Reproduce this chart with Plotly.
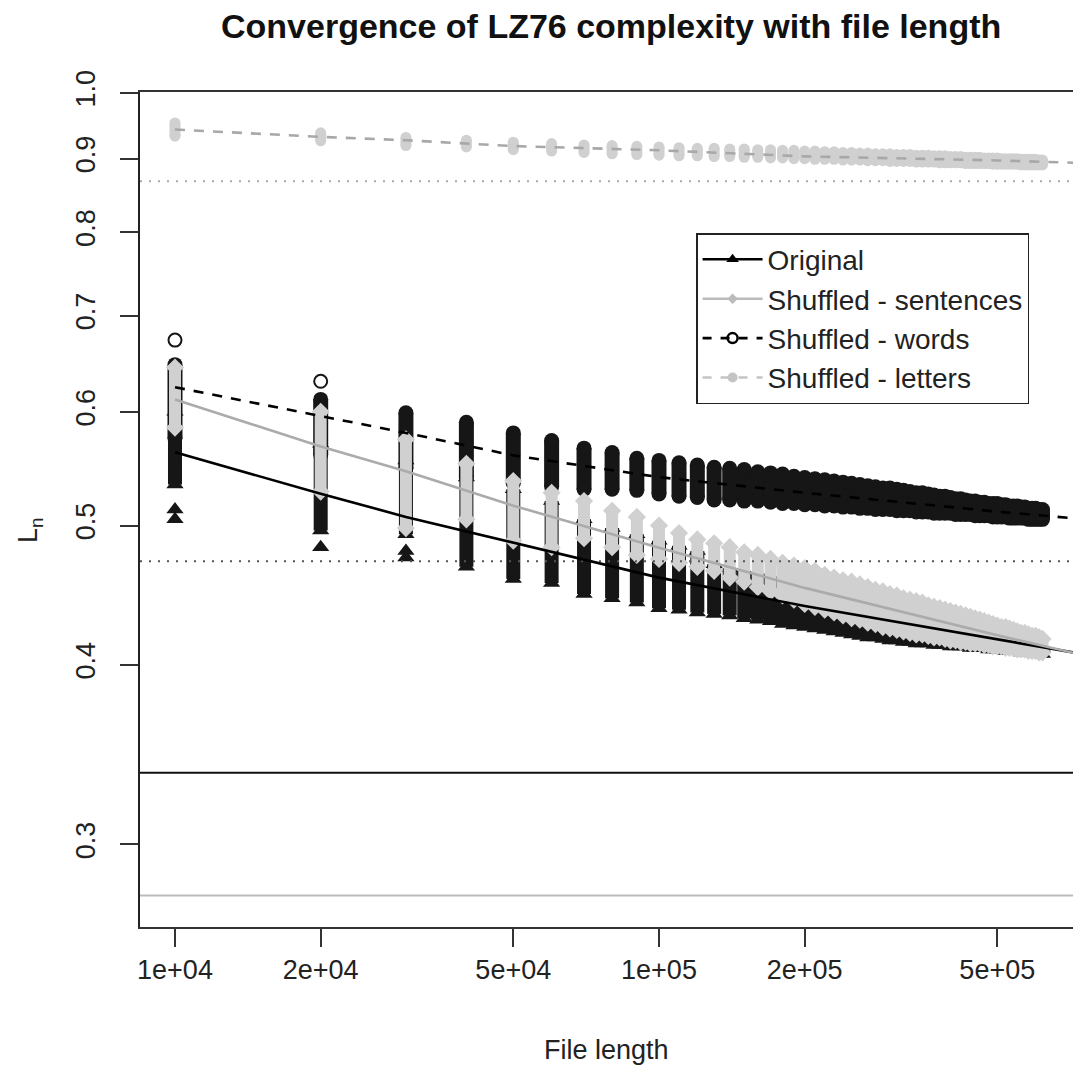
import plotly.graph_objects as go

# ---------------- data ----------------
file_length = [10000, 20000, 30000, 40000, 50000, 60000, 70000, 80000, 90000, 100000,
               110000, 120000, 130000, 140000, 150000, 160000, 170000, 180000, 190000, 200000,
               210000, 220000, 230000, 240000, 250000, 260000, 270000, 280000, 290000, 300000,
               310000, 320000, 330000, 340000, 350000, 360000, 370000, 380000, 390000, 400000,
               410000, 420000, 430000, 440000, 450000, 460000, 470000, 480000, 490000, 500000,
               510000, 520000, 530000, 540000, 550000, 560000, 570000, 580000, 590000, 600000,
               610000, 620000]

# per-column spread (lowest / highest value) of each series
original_lo = [0.534, 0.496, 0.493, 0.468, 0.459, 0.456, 0.448, 0.445, 0.442, 0.438, 0.437, 0.435,
               0.434, 0.433, 0.431, 0.430, 0.429, 0.427, 0.426, 0.425, 0.424, 0.423, 0.422, 0.421,
               0.420, 0.419, 0.418, 0.418, 0.417, 0.416, 0.416, 0.415, 0.415, 0.414, 0.414, 0.414,
               0.413, 0.413, 0.413, 0.412, 0.412, 0.412, 0.412, 0.411, 0.411, 0.411, 0.411, 0.410,
               0.410, 0.410, 0.410, 0.409, 0.409, 0.409, 0.409, 0.408, 0.408, 0.408, 0.408, 0.408,
               0.407, 0.407]
original_hi = [0.600, 0.570, 0.555, 0.540, 0.530, 0.520, 0.505, 0.498, 0.493, 0.488, 0.484, 0.480,
               0.470, 0.467, 0.465, 0.463, 0.461, 0.459, 0.457, 0.455, 0.453, 0.451, 0.450, 0.448,
               0.447, 0.445, 0.444, 0.443, 0.441, 0.440, 0.439, 0.438, 0.437, 0.436, 0.435, 0.434,
               0.433, 0.432, 0.431, 0.430, 0.429, 0.428, 0.427, 0.426, 0.425, 0.424, 0.423, 0.422,
               0.421, 0.420, 0.419, 0.419, 0.418, 0.417, 0.416, 0.415, 0.415, 0.414, 0.413, 0.413,
               0.412, 0.411]
sentences_lo = [0.585, 0.528, 0.498, 0.505, 0.488, 0.483, 0.490, 0.483, 0.477, 0.474, 0.471, 0.468,
                0.465, 0.460, 0.457, 0.453, 0.450, 0.447, 0.444, 0.441, 0.439, 0.437, 0.435, 0.433,
                0.431, 0.430, 0.428, 0.427, 0.425, 0.424, 0.423, 0.422, 0.421, 0.420, 0.420, 0.419,
                0.418, 0.418, 0.417, 0.416, 0.416, 0.415, 0.415, 0.414, 0.414, 0.414, 0.413, 0.413,
                0.412, 0.412, 0.412, 0.411, 0.411, 0.411, 0.410, 0.410, 0.410, 0.409, 0.409, 0.409,
                0.408, 0.408]
sentences_hi = [0.644, 0.600, 0.574, 0.552, 0.537, 0.527, 0.520, 0.512, 0.507, 0.500, 0.494, 0.489,
                0.486, 0.483, 0.479, 0.477, 0.474, 0.471, 0.469, 0.467, 0.465, 0.462, 0.460, 0.458,
                0.457, 0.455, 0.453, 0.451, 0.450, 0.448, 0.447, 0.445, 0.444, 0.443, 0.442, 0.440,
                0.439, 0.438, 0.437, 0.436, 0.435, 0.434, 0.433, 0.432, 0.431, 0.430, 0.429, 0.428,
                0.427, 0.426, 0.425, 0.425, 0.424, 0.423, 0.422, 0.421, 0.421, 0.420, 0.419, 0.419,
                0.418, 0.417]
words_lo = [0.575, 0.560, 0.548, 0.540, 0.535, 0.532, 0.530, 0.530, 0.529, 0.526, 0.524, 0.523,
            0.521, 0.521, 0.520, 0.520, 0.519, 0.518, 0.518, 0.517, 0.517, 0.516, 0.516, 0.515,
            0.515, 0.514, 0.514, 0.513, 0.513, 0.513, 0.512, 0.512, 0.512, 0.511, 0.511, 0.511,
            0.510, 0.510, 0.510, 0.510, 0.509, 0.509, 0.509, 0.509, 0.508, 0.508, 0.508, 0.508,
            0.507, 0.507, 0.507, 0.507, 0.506, 0.506, 0.506, 0.506, 0.506, 0.505, 0.505, 0.505,
            0.505, 0.505]
words_hi = [0.647, 0.612, 0.599, 0.590, 0.580, 0.573, 0.566, 0.562, 0.557, 0.555, 0.553, 0.551,
            0.549, 0.548, 0.547, 0.545, 0.544, 0.543, 0.541, 0.540, 0.539, 0.538, 0.537, 0.536,
            0.535, 0.534, 0.533, 0.532, 0.531, 0.531, 0.530, 0.529, 0.528, 0.527, 0.527, 0.526,
            0.525, 0.524, 0.524, 0.523, 0.522, 0.522, 0.521, 0.520, 0.520, 0.519, 0.519, 0.518,
            0.518, 0.518, 0.517, 0.517, 0.516, 0.516, 0.516, 0.515, 0.515, 0.514, 0.514, 0.514,
            0.513, 0.513]
letters_lo = [0.933, 0.926, 0.919, 0.917, 0.913, 0.911, 0.909, 0.907, 0.906, 0.905,
              0.904, 0.904, 0.903, 0.903, 0.902, 0.902, 0.901, 0.901, 0.900, 0.900,
              0.899, 0.899, 0.899, 0.898, 0.898, 0.898, 0.897, 0.897, 0.897, 0.896,
              0.896, 0.896, 0.896, 0.895, 0.895, 0.895, 0.895, 0.894, 0.894, 0.894,
              0.894, 0.894, 0.893, 0.893, 0.893, 0.893, 0.893, 0.893, 0.892, 0.892,
              0.892, 0.892, 0.892, 0.892, 0.892, 0.891, 0.891, 0.891, 0.891, 0.891,
              0.891, 0.891]
letters_hi = [0.953, 0.938, 0.931, 0.927, 0.924, 0.922, 0.920, 0.919, 0.918, 0.917,
              0.916, 0.915, 0.915, 0.914, 0.914, 0.913, 0.913, 0.912, 0.912, 0.911,
              0.911, 0.910, 0.910, 0.909, 0.909, 0.908, 0.908, 0.907, 0.907, 0.907,
              0.906, 0.906, 0.906, 0.905, 0.905, 0.905, 0.904, 0.904, 0.904, 0.903,
              0.903, 0.903, 0.902, 0.902, 0.902, 0.902, 0.901, 0.901, 0.901, 0.901,
              0.900, 0.900, 0.900, 0.900, 0.900, 0.899, 0.899, 0.899, 0.899, 0.899,
              0.898, 0.898]

# isolated points
original_out_x = [10000, 10000, 20000, 30000, 30000]
original_out_y = [0.513, 0.505, 0.483, 0.480, 0.475]
words_out_x = [10000, 20000]
words_out_y = [0.673, 0.630]

# fitted curves
fit_x = [10000, 20000, 30000, 50000, 100000, 200000, 500000, 750000]
fit_original = [0.5623, 0.5262, 0.5070, 0.4867, 0.4600, 0.4395, 0.4165, 0.4070]
fit_sentences = [0.6118, 0.5676, 0.5454, 0.5162, 0.4826, 0.4525, 0.4194, 0.4064]
fit_words = [0.6241, 0.5957, 0.5800, 0.5595, 0.5403, 0.5270, 0.5113, 0.5053]
fit_letters = [0.9430, 0.9319, 0.9269, 0.9183, 0.9121, 0.9033, 0.8974, 0.8937]

# horizontal reference levels
ref_levels = [0.868, 0.4722, 0.3365, 0.2765]
ref_colors = ["#aaaaaa", "#555555", "#111111", "#bbbbbb"]
ref_dash = ["2px,7px", "2px,7px", "solid", "solid"]

x_ticks = [1e4, 2e4, 5e4, 1e5, 2e5, 5e5]
x_ticktext = ["1e+04", "2e+04", "5e+04", "1e+05", "2e+05", "5e+05"]
y_ticks = [0.3, 0.4, 0.5, 0.6, 0.7, 0.8, 0.9, 1.0]
y_ticktext = ["0.3", "0.4", "0.5", "0.6", "0.7", "0.8", "0.9", "1.0"]

# ---------------- styling ----------------
BLACK = "#161616"
LIGHT = "#d0d0d0"
FONT = "Liberation Sans, Arial, sans-serif"
x_range = [3.9277, 5.8554]
y_range = [-0.5803, 0.0006]


def band(xs, lo, hi):
    X, Y = [], []
    for x, a, b in zip(xs, lo, hi):
        X += [x, x, None]
        Y += [a, b, None]
    return X, Y


fig = go.Figure()

def add_band(lo, hi, color, width, symbol, size):
    X, Y = band(file_length, lo, hi)
    fig.add_trace(go.Scatter(x=X, y=Y, mode="lines+markers", showlegend=False, hoverinfo="skip",
                             line=dict(color=color, width=width),
                             marker=dict(symbol=symbol, size=size, color=color, line=dict(width=0))))

# point clouds (drawn as per-column spreads)
add_band(original_lo, original_hi, BLACK, 14, "triangle-up", 15)
fig.add_trace(go.Scatter(x=original_out_x, y=original_out_y, mode="markers", showlegend=False,
                         hoverinfo="skip",
                         marker=dict(symbol="triangle-up", size=15, color=BLACK, line=dict(width=0))))
add_band(words_lo, words_hi, BLACK, 15, "circle", 15)
add_band(sentences_lo, sentences_hi, LIGHT, 12, "diamond", 14)
fig.add_trace(go.Scatter(x=words_out_x, y=words_out_y, mode="markers", showlegend=False,
                         hoverinfo="skip",
                         marker=dict(symbol="circle-open", size=13, color=BLACK,
                                     line=dict(width=2, color=BLACK))))
add_band(letters_lo, letters_hi, LIGHT, 11, "circle", 11)

# horizontal reference lines spanning the whole axis
for lev, col, dsh in zip(ref_levels, ref_colors, ref_dash):
    fig.add_trace(go.Scatter(x=[10 ** x_range[0], 10 ** x_range[1]], y=[lev, lev], mode="lines",
                             showlegend=False, hoverinfo="skip",
                             line=dict(color=col, width=2, dash=dsh)))

# fitted curves
fig.add_trace(go.Scatter(x=fit_x, y=fit_original, mode="lines", showlegend=False, hoverinfo="skip",
                         line=dict(color="#000000", width=2.6)))
fig.add_trace(go.Scatter(x=fit_x, y=fit_sentences, mode="lines", showlegend=False, hoverinfo="skip",
                         line=dict(color="#ababab", width=2.6)))
fig.add_trace(go.Scatter(x=fit_x, y=fit_words, mode="lines", showlegend=False, hoverinfo="skip",
                         line=dict(color="#000000", width=2.6, dash="10px,9px")))
fig.add_trace(go.Scatter(x=fit_x, y=fit_letters, mode="lines", showlegend=False, hoverinfo="skip",
                         line=dict(color="#a8a8a8", width=2.6, dash="10px,9px")))

# legend entries
legend_items = [
    ("Original", "#000000", "solid", "triangle-up", "#000000", 11, 0),
    ("Shuffled - sentences", "#bbbbbb", "solid", "diamond", "#bbbbbb", 8, 0),
    ("Shuffled - words", "#000000", "dash", "circle-open", "#000000", 10, 2.5),
    ("Shuffled - letters", "#c4c4c4", "dash", "circle", "#c4c4c4", 10, 0),
]
for name, lc, dsh, sym, mc, ms, mlw in legend_items:
    fig.add_trace(go.Scatter(x=[None], y=[None], mode="lines+markers", name=name,
                             line=dict(color=lc, width=2.6, dash=dsh),
                             marker=dict(symbol=sym, size=ms, color=mc,
                                         line=dict(width=mlw, color=mc))))

fig.update_layout(
    width=1073, height=1069,
    margin=dict(l=140, r=0, t=92, b=142, pad=0),
    paper_bgcolor="white", plot_bgcolor="white",
    font=dict(family=FONT, size=28, color="#222222"),
    showlegend=True,
    legend=dict(x=0.596, y=0.831, xanchor="left", yanchor="top",
                bgcolor="white", bordercolor="#222222", borderwidth=1.5,
                font=dict(family=FONT, size=28, color="#222222"),
                itemwidth=60, tracegroupgap=0, traceorder="normal"),
    xaxis=dict(type="log", range=x_range, autorange=False, showgrid=False, zeroline=False,
               showline=True, linecolor="#333333", linewidth=2, mirror=True,
               ticks="outside", ticklen=18, tickwidth=2, tickcolor="#333333",
               tickvals=x_ticks, ticktext=x_ticktext, automargin=False,
               tickfont=dict(family=FONT, size=27, color="#222222")),
    yaxis=dict(type="log", range=y_range, autorange=False, showgrid=False, zeroline=False,
               showline=True, linecolor="#222222", linewidth=2,
               ticks="outside", ticklen=18, tickwidth=2, tickcolor="#333333",
               tickvals=y_ticks, ticktext=y_ticktext, tickangle=-90, automargin=False,
               ticklabelstandoff=14,
               tickfont=dict(family=FONT, size=27, color="#222222")),
    annotations=[
        dict(text="<b>Convergence of LZ76 complexity with file length</b>", xref="paper", yref="paper",
             x=0.5048, y=1.079, xanchor="center", yanchor="middle", showarrow=False,
             font=dict(family=FONT, size=34, color="#111111")),
        dict(text="File length", xref="paper", yref="paper", x=0.5005, y=-0.1473,
             xanchor="center", yanchor="middle", showarrow=False,
             font=dict(family=FONT, size=27, color="#222222")),
        dict(text="L<sub>n</sub>", xref="paper", yref="paper", x=-0.1179, y=0.4754,
             xanchor="center", yanchor="middle", showarrow=False, textangle=-90,
             font=dict(family=FONT, size=27, color="#222222")),
    ],
)

fig.write_html("out.html")
